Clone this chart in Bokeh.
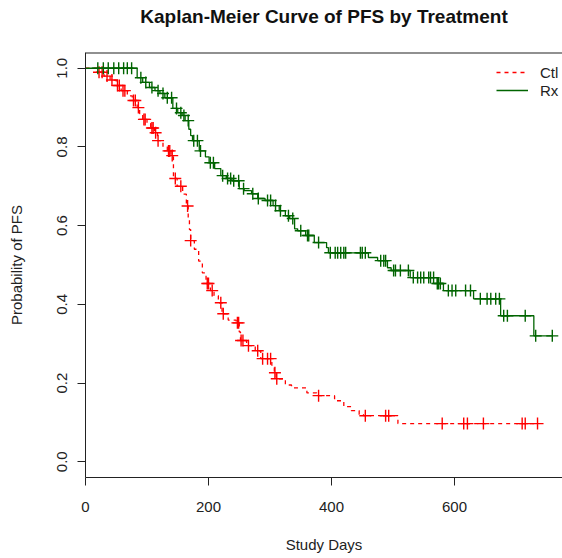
from bokeh.plotting import figure
from bokeh.models import (LinearAxis, FixedTicker, Range1d, Legend, LegendItem, Title, Span)
from bokeh.embed import file_html
from bokeh.resources import INLINE

# ---- data (Kaplan-Meier step points) ----
ctl_event_days = [0, 20, 30, 40, 50, 58, 68, 76, 84, 88, 93, 100, 106, 112, 117, 126, 133, 139,
                  143, 149, 158, 164, 167, 169, 171, 177, 184, 190, 196, 203, 209, 216, 222, 232,
                  245, 250, 252, 262, 276, 285, 303, 307, 310, 325, 335, 360, 376, 405, 420, 432,
                  445, 452, 508]
ctl_surv = [1.0, 0.99, 0.98, 0.97, 0.956, 0.943, 0.93, 0.918, 0.9, 0.885, 0.87, 0.86, 0.848, 0.836,
            0.816, 0.80, 0.79, 0.778, 0.72, 0.70, 0.68, 0.65, 0.62, 0.59, 0.562, 0.54, 0.51, 0.48,
            0.453, 0.435, 0.422, 0.404, 0.376, 0.36, 0.353, 0.33, 0.308, 0.295, 0.282, 0.262, 0.245,
            0.226, 0.211, 0.195, 0.188, 0.175, 0.168, 0.155, 0.14, 0.13, 0.12, 0.117, 0.097]
ctl_censor_days = [22, 27, 35, 43, 52, 55, 61, 64, 78, 81, 86, 95, 97, 108, 110, 114, 118, 135, 137,
                   141, 146, 155, 166, 171, 198, 200, 206, 220, 224, 247, 249, 253, 256, 265, 280,
                   288, 296, 301, 308, 311, 379, 455, 488, 493, 580, 615, 621, 647, 710, 715, 735]

rx_event_days = [0, 84, 93, 104, 113, 121, 129, 142, 150, 157, 162, 168, 171, 174, 185, 195, 201,
                 210, 220, 229, 238, 250, 258, 270, 280, 292, 305, 315, 325, 332, 340, 345, 358,
                 372, 392, 395, 460, 475, 491, 497, 528, 572, 582, 631, 675, 729]
rx_surv = [1.0, 0.976, 0.964, 0.951, 0.943, 0.936, 0.925, 0.898, 0.887, 0.88, 0.867, 0.845, 0.829,
           0.816, 0.79, 0.775, 0.76, 0.745, 0.727, 0.72, 0.714, 0.694, 0.689, 0.681, 0.669, 0.664,
           0.651, 0.638, 0.625, 0.618, 0.592, 0.587, 0.575, 0.557, 0.544, 0.531, 0.519, 0.511,
           0.493, 0.486, 0.468, 0.453, 0.435, 0.414, 0.371, 0.32]
rx_censor_days = [20, 29, 37, 46, 54, 62, 68, 75, 90, 98, 108, 118, 126, 133, 140, 148, 155, 160,
                  167, 176, 182, 187, 203, 208, 223, 231, 236, 241, 249, 257, 272, 281, 296, 301,
                  309, 317, 330, 337, 350, 361, 363, 379, 398, 406, 410, 415, 420, 423, 447, 450,
                  455, 480, 485, 488, 501, 504, 512, 525, 533, 540, 545, 550, 558, 561, 566, 572,
                  574, 577, 590, 596, 602, 618, 626, 642, 653, 659, 667, 673, 680, 686, 715, 732, 759]

x_ticks = [0, 200, 400, 600]
y_ticks = [0.0, 0.2, 0.4, 0.6, 0.8, 1.0]
y_tick_labels = ["0.0", "0.2", "0.4", "0.6", "0.8", "1.0"]
series_names = ["Ctl", "Rx"]
series_colors = ["#ff0000", "#006400"]
title_text = "Kaplan-Meier Curve of PFS by Treatment"

Y_MIN, Y_MAX = -0.04, 1.04


def surv_at(days, events, surv):
    out = []
    for d in days:
        s = surv[0]
        for e, v in zip(events, surv):
            if e <= d:
                s = v
        out.append(s)
    return out


FONT = "Liberation Sans"

p = figure(width=562, height=558, output_backend="svg", toolbar_location=None,
           x_range=Range1d(0, 775.6), y_range=Range1d(Y_MIN, Y_MAX),
           min_border_left=85, min_border_right=0, min_border_top=52, min_border_bottom=81,
           x_axis_type=None, y_axis_type=None)
p.outline_line_color = None
p.xgrid.visible = False
p.ygrid.visible = False
p.background_fill_color = "white"
p.border_fill_color = "white"

# a trailing empty line makes the title block taller, so its text sits near the top of the page
title = Title(text=title_text + "\n", align="center", vertical_align="top",
              text_font=FONT, text_font_size="19px", text_font_style="bold",
              text_color="#111111", standoff=6)
p.add_layout(title, "above")

# top edge of the plot box
p.add_layout(Span(location=Y_MAX, dimension="width", line_color="#222222", line_width=2))

xaxis = LinearAxis(ticker=FixedTicker(ticks=x_ticks), axis_label="Study Days",
                   major_tick_out=8, major_tick_in=0, minor_tick_out=0, minor_tick_in=0,
                   major_label_standoff=16, axis_label_standoff=21,
                   major_label_text_font=FONT, major_label_text_font_size="15px",
                   major_label_text_color="#222222",
                   axis_label_text_font=FONT, axis_label_text_font_size="15px",
                   axis_label_text_font_style="normal", axis_label_text_color="#222222",
                   axis_line_color="#222222", major_tick_line_color="#222222")
p.add_layout(xaxis, "below")

yaxis = LinearAxis(ticker=FixedTicker(ticks=y_ticks), axis_label="Probability of PFS",
                   major_label_overrides={t: l for t, l in zip(y_ticks, y_tick_labels)},
                   major_label_orientation="vertical",
                   major_tick_out=8, major_tick_in=0, minor_tick_out=0, minor_tick_in=0,
                   major_label_standoff=10, axis_label_standoff=30,
                   major_label_text_font=FONT, major_label_text_font_size="15px",
                   major_label_text_color="#222222",
                   axis_label_text_font=FONT, axis_label_text_font_size="15px",
                   axis_label_text_font_style="normal", axis_label_text_color="#222222",
                   axis_line_color="#222222", major_tick_line_color="#222222")
p.add_layout(yaxis, "left")

items = []
for name, color, dash, ev, sv, cens in [
        (series_names[0], series_colors[0], "4 4", ctl_event_days, ctl_surv, ctl_censor_days),
        (series_names[1], series_colors[1], "solid", rx_event_days, rx_surv, rx_censor_days)]:
    xs = list(ev) + [cens[-1]]
    ys = list(sv) + [sv[-1]]
    r = p.step(xs, ys, mode="after", line_color=color, line_width=1.3, line_dash=dash)
    p.scatter(cens, surv_at(cens, ev, sv), marker="cross", size=12, line_color=color,
              line_width=1.4)
    items.append(LegendItem(label=name, renderers=[r]))

legend = Legend(items=items, location=(411, 378), orientation="vertical",
                border_line_color=None, background_fill_alpha=0,
                label_text_font=FONT, label_text_font_size="15px", label_text_color="#222222",
                glyph_width=32, glyph_height=18, label_height=18, label_standoff=12,
                spacing=0, padding=0, margin=0)
p.add_layout(legend, "center")

open("out.html", "w").write(file_html(p, INLINE))
